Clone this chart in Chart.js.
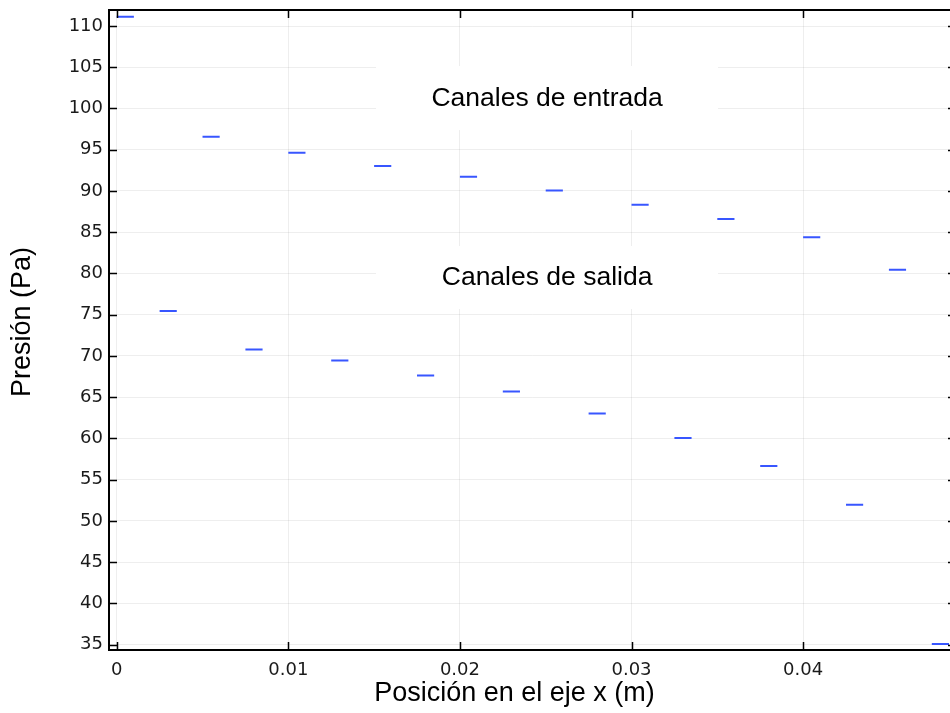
<!DOCTYPE html>
<html lang="es">
<head>
    <meta charset="UTF-8">
    <title>Presión en los canales</title>
    <script src="https://cdn.jsdelivr.net/npm/chart.js"></script>
    <style>
        html, body { margin: 0; padding: 0; background: #fff; overflow: hidden; }
        /* the plot runs slightly past the right edge of the window, like the original */
        #wrap { width: 970px; height: 713px; }
    </style>
</head>
<body>
    <div id="wrap"><canvas id="presionChart"></canvas></div>

    <script>
        // Canales de entrada: inicio de cada canal (m) y presión (Pa)
        const entradaX = [0, 0.005, 0.01, 0.015, 0.02, 0.025, 0.03, 0.035, 0.04, 0.045];
        const entradaP = [111.13, 96.57, 94.64, 93.03, 91.73, 90.05, 88.34, 86.61, 84.4, 80.45];

        // Canales de salida
        const salidaX = [0.0025, 0.0075, 0.0125, 0.0175, 0.0225, 0.0275, 0.0325, 0.0375, 0.0425, 0.0475];
        const salidaP = [75.44, 70.8, 69.45, 67.63, 65.69, 63.03, 60.07, 56.65, 51.97, 35.1];

        const anchoCanal = 0.001;

        const xTicks = [0, 0.01, 0.02, 0.03, 0.04];
        const yTicks = [35, 40, 45, 50, 55, 60, 65, 70, 75, 80, 85, 90, 95, 100, 105, 110];

        // text labels inside the plot (data units)
        const etiquetas = [
            { texto: 'Canales de entrada', x: 0.02508, y: 100.34, caja: [0.01511, 0.03504, 105.15, 97.39] },
            { texto: 'Canales de salida',  x: 0.02508, y: 78.6,   caja: [0.01511, 0.03504, 83.33, 75.7] }
        ];

        // each channel is a short horizontal line, null breaks the line between channels
        function segmentos(xs, ps) {
            const pts = [];
            xs.forEach((x, i) => {
                pts.push({ x: x, y: ps[i] });
                pts.push({ x: x + anchoCanal, y: ps[i] });
                pts.push({ x: x + anchoCanal, y: null });
            });
            return pts;
        }

        const azul = 'rgb(56, 86, 255)';
        const letraEjes = '"DejaVu Sans", sans-serif';
        const letraTextos = '"Liberation Sans", Arial, sans-serif';

        // white boxes + text for the two labels
        const etiquetasPlugin = {
            id: 'etiquetas',
            beforeDatasetsDraw(chart) {
                const ctx = chart.ctx;
                const xs = chart.scales.x, ys = chart.scales.y;
                ctx.save();
                etiquetas.forEach(e => {
                    const x0 = xs.getPixelForValue(e.caja[0]);
                    const x1 = xs.getPixelForValue(e.caja[1]);
                    const y0 = ys.getPixelForValue(e.caja[2]);
                    const y1 = ys.getPixelForValue(e.caja[3]);
                    ctx.fillStyle = '#fff';
                    ctx.fillRect(x0, y0, x1 - x0, y1 - y0);
                    ctx.fillStyle = '#000';
                    ctx.font = '26.5px ' + letraTextos;
                    ctx.textAlign = 'center';
                    ctx.textBaseline = 'alphabetic';
                    ctx.fillText(e.texto, xs.getPixelForValue(e.x), ys.getPixelForValue(e.y));
                });
                ctx.restore();
            }
        };

        // frame with inward ticks on all four sides, and the axis titles
        const marcoPlugin = {
            id: 'marco',
            afterDraw(chart) {
                const ctx = chart.ctx;
                const { left, right, top, bottom } = chart.chartArea;
                const xs = chart.scales.x, ys = chart.scales.y;
                const largo = 8;
                ctx.save();
                ctx.strokeStyle = '#000';
                ctx.lineWidth = 1.5;
                ctx.beginPath();
                xTicks.forEach(v => {
                    const px = Math.round(xs.getPixelForValue(v)) + 0.5;
                    ctx.moveTo(px, bottom); ctx.lineTo(px, bottom - largo);
                    ctx.moveTo(px, top); ctx.lineTo(px, top + largo);
                });
                yTicks.forEach(v => {
                    const py = Math.round(ys.getPixelForValue(v)) + 0.5;
                    ctx.moveTo(left, py); ctx.lineTo(left + largo, py);
                    ctx.moveTo(right, py); ctx.lineTo(right - largo, py);
                });
                ctx.stroke();

                ctx.lineWidth = 2;
                ctx.strokeRect(left, top, right - left, bottom - top);

                ctx.fillStyle = '#000';
                ctx.font = '27px ' + letraTextos;
                ctx.textAlign = 'center';
                ctx.textBaseline = 'middle';
                ctx.fillText('Posición en el eje x (m)', 514.5, 694);

                ctx.translate(23, 322);
                ctx.rotate(-Math.PI / 2);
                ctx.fillText('Presión (Pa)', 0, 0);
                ctx.restore();
            }
        };

        const ctx = document.getElementById('presionChart').getContext('2d');

        const presionChart = new Chart(ctx, {
            type: 'line',
            data: {
                datasets: [
                    {
                        label: 'Canales de entrada',
                        data: segmentos(entradaX, entradaP),
                        borderColor: azul,
                        borderWidth: 2,
                        pointRadius: 0,
                        spanGaps: false,
                        fill: false
                    },
                    {
                        label: 'Canales de salida',
                        data: segmentos(salidaX, salidaP),
                        borderColor: azul,
                        borderWidth: 2,
                        pointRadius: 0,
                        spanGaps: false,
                        fill: false
                    }
                ]
            },
            options: {
                responsive: true,
                maintainAspectRatio: false,
                animation: false,
                devicePixelRatio: 1,
                layout: { padding: { top: 10, right: 14, left: 0, bottom: 0 } },
                plugins: {
                    legend: { display: false },
                    tooltip: { enabled: false }
                },
                scales: {
                    x: {
                        type: 'linear',
                        min: -0.00045,
                        max: 0.04891,
                        afterBuildTicks: s => { s.ticks = xTicks.map(v => ({ value: v })); },
                        afterFit: s => { s.height = 63; s.paddingLeft = 0; s.paddingRight = 0; },
                        grid: { color: 'rgba(0,0,0,0.065)', lineWidth: 1, drawTicks: false, tickLength: 0 },
                        border: { display: false },
                        ticks: {
                            autoSkip: false,
                            maxRotation: 0,
                            padding: 10,
                            color: '#1a1a1a',
                            font: { family: letraEjes, size: 18 },
                            callback: v => String(v)
                        }
                    },
                    y: {
                        min: 34.36,
                        max: 111.94,
                        afterBuildTicks: s => { s.ticks = yTicks.map(v => ({ value: v })); },
                        afterFit: s => { s.width = 109; s.paddingTop = 0; s.paddingBottom = 0; },
                        grid: { color: 'rgba(0,0,0,0.065)', lineWidth: 1, drawTicks: false, tickLength: 0 },
                        border: { display: false },
                        ticks: {
                            autoSkip: false,
                            padding: 6,
                            color: '#1a1a1a',
                            font: { family: letraEjes, size: 18 },
                            callback: v => String(v)
                        }
                    }
                }
            },
            plugins: [etiquetasPlugin, marcoPlugin]
        });
    </script>
</body>
</html>
